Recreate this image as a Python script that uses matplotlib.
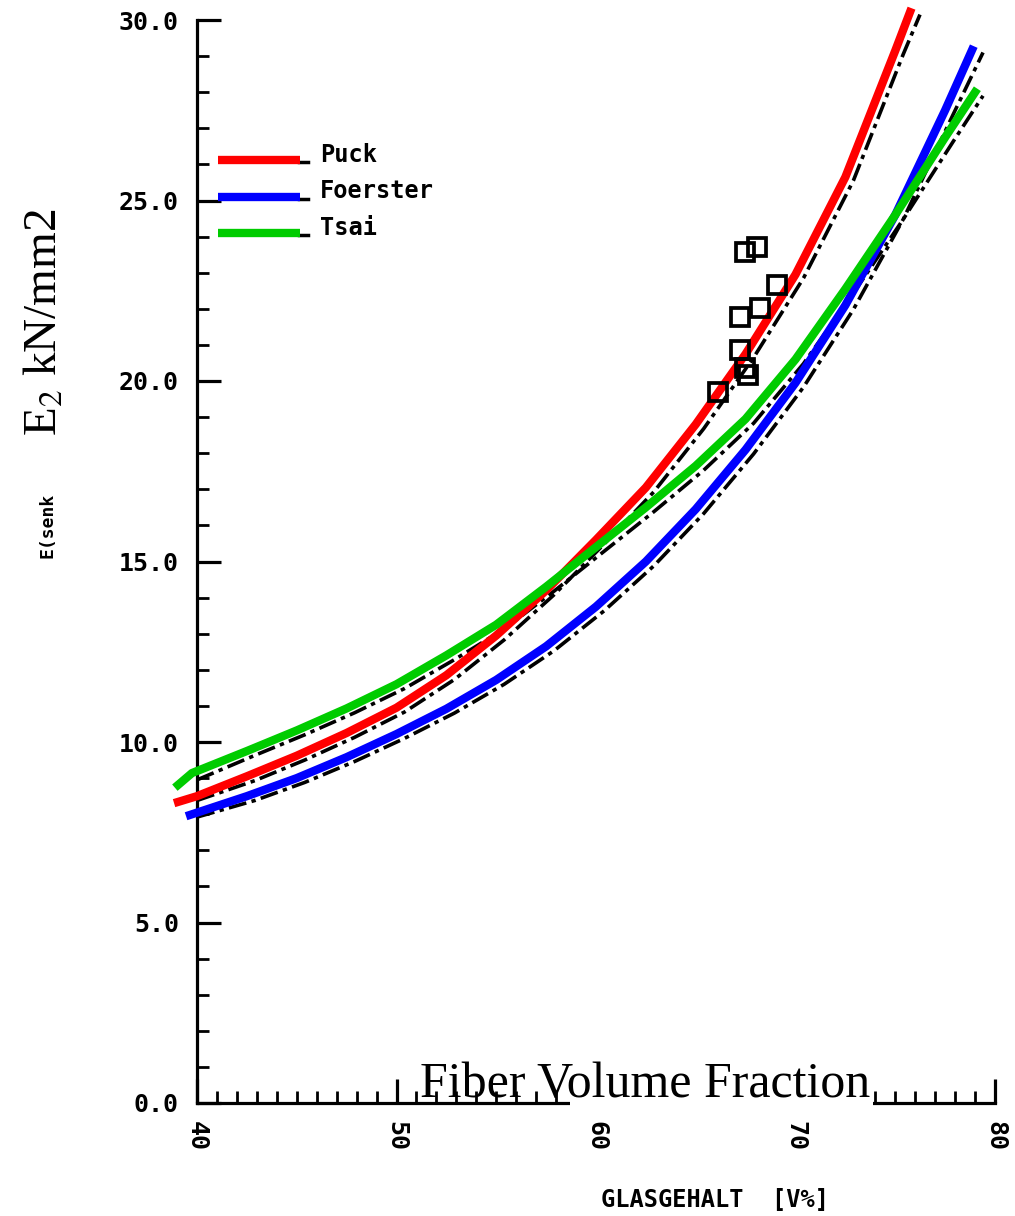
import matplotlib
matplotlib.use("Agg")
import matplotlib.pyplot as plt
from matplotlib.patches import Rectangle

# ---------------- data ----------------
puck_x = [39.05, 40.0, 42.5, 45.0, 47.5, 50.0, 52.5, 55.0, 57.5, 60.0, 62.5, 65.0, 67.5, 70.0, 72.5, 75.0, 75.74]
puck_y = [8.34, 8.50, 9.05, 9.62, 10.25, 10.95, 11.85, 12.95, 14.20, 15.60, 17.05, 18.80, 20.75, 22.95, 25.65, 29.15, 30.22]

foer_x = [39.65, 42.5, 45.0, 47.5, 50.0, 52.5, 55.0, 57.5, 60.0, 62.5, 65.0, 67.5, 70.0, 72.5, 75.0, 77.5, 78.85]
foer_y = [7.98, 8.50, 9.00, 9.58, 10.22, 10.92, 11.72, 12.65, 13.75, 15.00, 16.45, 18.10, 19.95, 22.10, 24.60, 27.50, 29.17]

tsai_x = [39.05, 39.75, 42.5, 45.0, 47.5, 50.0, 52.5, 55.0, 57.5, 60.0, 62.5, 65.0, 67.5, 70.0, 72.5, 75.0, 77.5, 79.0]
tsai_y = [8.81, 9.14, 9.75, 10.32, 10.93, 11.60, 12.40, 13.25, 14.30, 15.40, 16.50, 17.65, 18.95, 20.60, 22.55, 24.60, 26.75, 28.00]

# original scanned (black dash-dot) curves
puck_bk_x = [40.0, 42.9, 45.4, 47.9, 50.4, 52.9, 55.4, 57.9, 60.4, 62.9, 65.4, 67.9, 70.4, 72.9, 75.4, 76.24]
puck_bk_y = [8.38, 8.93, 9.50, 10.13, 10.83, 11.73, 12.83, 14.08, 15.48, 16.93, 18.68, 20.65, 22.85, 25.55, 29.05, 30.15]
foer_bk_x = [40.0, 42.9, 45.4, 47.9, 50.4, 52.9, 55.4, 57.9, 60.4, 62.9, 65.4, 67.9, 70.4, 72.9, 75.4, 77.9, 79.4]
foer_bk_y = [7.92, 8.38, 8.88, 9.46, 10.10, 10.80, 11.60, 12.53, 13.63, 14.88, 16.33, 17.98, 19.83, 21.98, 24.48, 27.38, 29.10]
tsai_bk_x = [40.0, 42.9, 45.4, 47.9, 50.4, 52.9, 55.4, 57.9, 60.4, 62.9, 65.4, 67.9, 70.4, 72.9, 75.4, 77.9, 79.4]
tsai_bk_y = [8.95, 9.63, 10.20, 10.81, 11.48, 12.28, 13.13, 14.18, 15.28, 16.38, 17.53, 18.83, 20.48, 22.43, 24.48, 26.63, 27.90]

# measured points
meas_x = [67.47, 68.07, 69.07, 68.22, 67.22, 67.22, 67.62, 66.12, 67.47]
meas_y = [23.57, 23.71, 22.66, 22.02, 21.77, 20.86, 20.17, 19.70, 20.36]

legend_names = ["Puck", "Foerster", "Tsai"]
legend_colors = ["#ff0000", "#0000ff", "#00cc00"]
legend_y = [26.12, 25.10, 24.10]

xticks = [40, 50, 60, 70, 80]
xticklabels = ["40", "50", "60", "70", "80"]
yticks = [0, 5, 10, 15, 20, 25, 30]
yticklabels = ["0.0", "5.0", "10.0", "15.0", "20.0", "25.0", "30.0"]

# ---------------- figure ----------------
W, H = 1015, 1216
fig = plt.figure(figsize=(W / 100, H / 100), dpi=100)
ax = fig.add_axes([197 / W, (H - 1103) / H, 798 / W, (1103 - 20) / H])
ax.set_xlim(40, 80)
ax.set_ylim(0, 30)

mono = dict(family="DejaVu Sans Mono", weight="bold")

for s in ["top", "right"]:
    ax.spines[s].set_visible(False)
for s in ["left", "bottom"]:
    ax.spines[s].set_linewidth(2.3)

ax.set_xticks(xticks)
ax.set_xticklabels(xticklabels, rotation=270, fontsize=18, **mono)
ax.set_xticks(range(40, 81), minor=True)
ax.set_yticks(yticks)
ax.set_yticklabels(yticklabels, fontsize=18, **mono)
ax.set_yticks(range(0, 31), minor=True)
ax.tick_params(axis="both", which="major", direction="in", length=17, width=2.3)
ax.tick_params(axis="both", which="minor", direction="in", length=8.5, width=2.0)
ax.tick_params(axis="x", which="major", pad=13)
ax.tick_params(axis="y", which="major", pad=13)

# black scanned curves
dash = (0, (5, 1.5, 1.2, 1.5))
for bx, by in [(puck_bk_x, puck_bk_y), (foer_bk_x, foer_bk_y), (tsai_bk_x, tsai_bk_y)]:
    ax.plot(bx, by, color="black", lw=2.6, linestyle=dash, clip_on=False, zorder=2)

# coloured curves
ax.plot(puck_x, puck_y, color=legend_colors[0], lw=6, clip_on=False, zorder=3)
ax.plot(foer_x, foer_y, color=legend_colors[1], lw=6, clip_on=False, zorder=3)
ax.plot(tsai_x, tsai_y, color=legend_colors[2], lw=6, clip_on=False, zorder=3)

# measured squares
ax.plot(meas_x, meas_y, linestyle="none", marker="s", ms=13, mfc="none",
        mec="black", mew=2.7, zorder=4)

# hand-made legend
for name, col, ly in zip(legend_names, legend_colors, legend_y):
    ax.plot([45.1, 45.55], [ly - 0.05, ly - 0.05], color="black", lw=2.5, zorder=2)
    ax.plot([41.05, 45.16], [ly, ly], color=col, lw=6, solid_capstyle="butt", zorder=3)
    ax.text(46.15, ly + 0.15, name, fontsize=17, va="center", ha="left", **mono)

# axis titles (original)
fig.text(715 / W, 1 - 1200 / H, "GLASGEHALT  [V%]", fontsize=17, ha="center",
         va="center", **mono)
fig.text(48 / W, 1 - 525 / H, "E(senk", fontsize=13, rotation=90, ha="center",
         va="center", **mono)

# overlay labels
plt.rcParams["mathtext.fontset"] = "stix"
fig.patches.append(Rectangle((570 / W, 1 - 1111 / H), (873 - 570) / W, 52 / H,
                             transform=fig.transFigure, facecolor="white",
                             edgecolor="none", zorder=5))
fig.text(420 / W, 1 - 1097 / H, "Fiber Volume Fraction", fontsize=36,
         family="Liberation Serif", ha="left", va="baseline", zorder=6)
fig.text(45 / W, 1 - 322 / H, r"E$_2$ kN/mm2", fontsize=34, rotation=90,
         family="Liberation Serif", ha="center", va="center", zorder=6)

fig.savefig("out.png", dpi=100)
